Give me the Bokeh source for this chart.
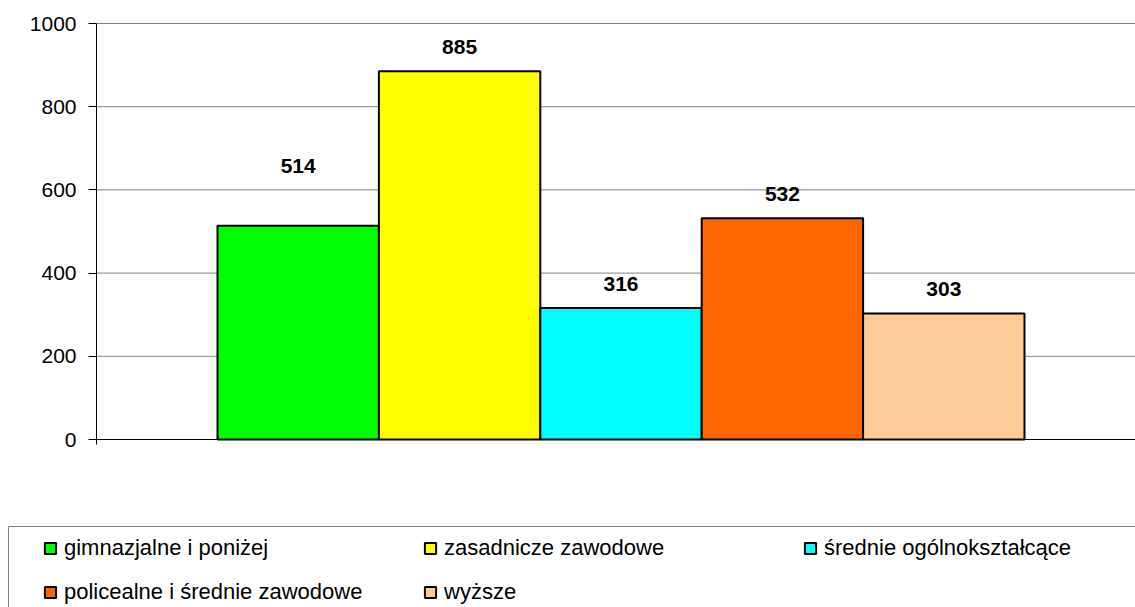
from bokeh.plotting import figure
from bokeh.models import (ColumnDataSource, Range1d, FixedTicker, Legend, LegendItem,
                          LinearAxis, BoxAnnotation)
from bokeh.embed import file_html
from bokeh.resources import INLINE
from bokeh.core.properties import value

# ---- data ----
categories = ["gimnazjalne i poniżej", "zasadnicze zawodowe", "średnie ogólnokształcące",
              "policealne i średnie zawodowe", "wyższe"]
values = [514, 885, 316, 532, 303]
colors = ["#00FF00", "#FFFF00", "#00FFFF", "#FF6600", "#FFCC99"]
y_ticks = [0, 200, 400, 600, 800, 1000]
label_dy = [-60, -24, -24, -24, -24]   # label pixel offsets (style)

FONT = "Liberation Sans"
W, H = 1135, 607

# layout geometry (screen px): value axis at x=96, bars span 217..1024, y 0 at 439, 1000 at 23
PX_X = 807 / 5.0
X0 = -0.5 - 217 / PX_X
X1 = X0 + W / PX_X
PX_Y = 416 / 1000.0
Y1 = 1000 + 23 / PX_Y
Y0 = -(H - 439) / PX_Y
AXIS_X = -0.5 - (217 - 96) / PX_X

src = ColumnDataSource(dict(
    x=list(range(len(values))),
    value=values,
    color=colors,
    label=[str(v) for v in values],
    dy=label_dy,
))

p = figure(width=W, height=H, output_backend="svg", toolbar_location=None,
           x_range=Range1d(X0, X1), y_range=Range1d(Y0, Y1),
           x_axis_type=None, y_axis_type=None,
           min_border=0)
p.outline_line_color = None
p.background_fill_color = "white"
p.grid.visible = False

# horizontal gridlines at the value-axis ticks, spanning the plot area
p.segment(x0=AXIS_X, x1=X1, y0=y_ticks, y1=y_ticks,
          line_color="#808080", line_width=1)

bars = p.vbar(x="x", top="value", width=1.0, bottom=0, source=src,
              fill_color="color", line_color="black", line_width=2)

p.text(x="x", y="value", text="label", y_offset="dy", source=src,
       text_font=value(FONT), text_font_size="21px", text_font_style="bold",
       text_align="center", text_baseline="middle", text_color="black")

# value axis
yaxis = LinearAxis(ticker=FixedTicker(ticks=y_ticks), fixed_location=AXIS_X,
                   bounds=(-12, 1000),
                   major_label_text_font=FONT, major_label_text_font_size="21px",
                   major_label_text_color="black", major_label_standoff=12,
                   major_tick_in=0, major_tick_out=8, minor_tick_line_color=None,
                   axis_line_color="black", major_tick_line_color="black")
p.add_layout(yaxis, "left")

# category axis line
xaxis = LinearAxis(ticker=FixedTicker(ticks=[]), fixed_location=0,
                   bounds=(AXIS_X, X1),
                   major_tick_line_color=None,
                   minor_tick_line_color=None, axis_line_color="black")
p.add_layout(xaxis, "below")

# ---- legend frame (open to the right and bottom edges) ----
legend_box = BoxAnnotation(left=X0 + 8 / PX_X, top=Y0 + (H - 526) / PX_Y,
                           right=X1 + 20 / PX_X, bottom=Y0 - 20 / PX_Y,
                           fill_alpha=0, line_color="#808080", line_width=1,
                           line_alpha=1)
p.add_layout(legend_box)

# ---- legend (square swatches) ----
swatch = p.scatter(x="x", y="value", source=src, marker="square",
                   fill_color="color", line_color="black", line_width=2)
swatch.visible = False

items = [LegendItem(label=c, renderers=[swatch], index=i) for i, c in enumerate(categories)]
legend = Legend(items=items, location=(36, 1), orientation="horizontal", ncols=3,
                padding=0, spacing=16, glyph_width=28, glyph_height=28,
                label_standoff=0, label_width=336, label_height=28,
                label_text_font=FONT, label_text_font_size="22px",
                label_text_color="black",
                border_line_color=None, background_fill_alpha=0)
p.add_layout(legend, "center")

open("out.html", "w").write(file_html(p, INLINE))
